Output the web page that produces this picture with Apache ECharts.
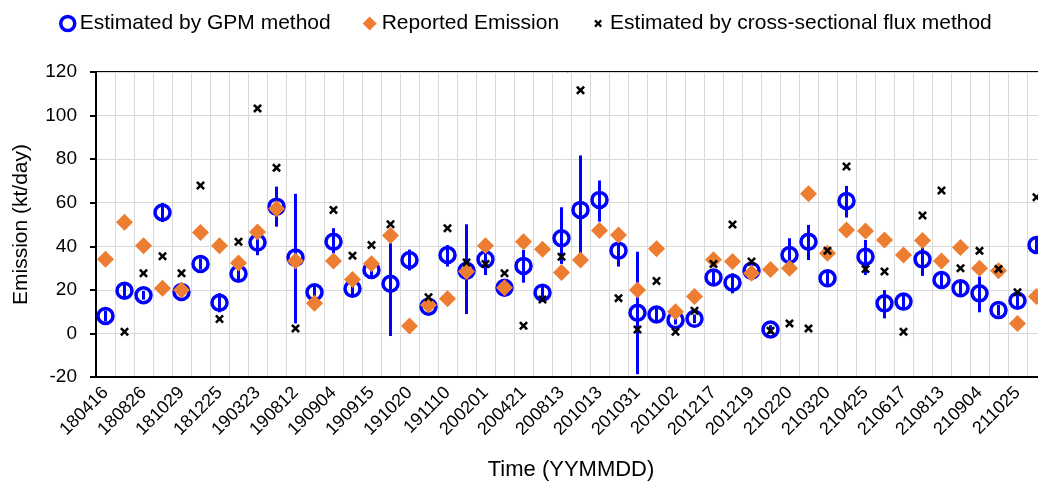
<!DOCTYPE html>
<html>
<head>
<meta charset="utf-8">
<script src="https://cdn.jsdelivr.net/npm/echarts@6/dist/echarts.min.js"></script>
<style>
  html, body { margin: 0; padding: 0; background: #fff; }
  #chart { width: 1038px; height: 482px; }
</style>
</head>
<body>
<div id="chart"></div>
<script>
// tick labels shown on every other observation date
const dateLabels = ['180416', '180826', '181029', '181225', '190323', '190812', '190904', '190915', '191020',
  '191110', '200201', '200421', '200813', '201013', '201031', '201102', '201217', '201219', '210220',
  '210320', '210425', '210617', '210813', '210904', '211025']

// GPM estimate and its error range (kt/day)
const gpm = [8.0, 19.6, 17.5, 55.5, 19.0, 31.9, 14.1, 27.4, 41.7, 58.2, 34.8, 18.9, 42.1, 20.5, 29.1, 22.8, 33.7,
  12.3, 36.0, 28.8, 34.0, 21.0, 31.0, 18.7, 43.7, 56.7, 61.3, 38.0, 9.5, 8.7, 6.1, 6.7, 25.7, 23.3, 28.8, 1.8,
  36.0, 42.1, 25.3, 60.8, 35.2, 13.8, 14.6, 34.0, 24.5, 20.7, 18.4, 10.7, 15.0, 40.6]
const gpmHigh = [10.5, 23.1, 19.5, 59.9, 21.0, 34.4, 18.5, 30.4, 46.8, 67.4, 64.1, 21.9, 48.3, 24.0, 32.1, 41.4, 38.5,
  15.3, 40.6, 50.1, 39.1, 23.0, 38.3, 21.7, 57.9, 81.7, 70.2, 43.7, 37.5, 12.2, 8.1, 8.7, 29.2, 27.6, 31.3, 3.8,
  43.7, 49.8, 28.3, 67.7, 42.9, 19.9, 18.1, 39.8, 28.0, 23.7, 26.1, 13.2, 18.0, 44.1]
const gpmLow = [5.5, 16.1, 15.5, 51.1, 17.0, 29.4, 9.7, 24.4, 35.9, 49.0, 4.6, 15.9, 36.8, 17.0, 26.1, -1.2, 28.9,
  9.3, 30.7, 8.9, 26.8, 19.0, 23.3, 15.7, 31.9, 34.0, 51.3, 30.7, -18.7, 5.2, 4.1, 4.7, 22.2, 18.4, 26.3, -0.2,
  30.7, 33.7, 22.3, 53.2, 26.8, 6.9, 11.1, 26.4, 21.0, 17.7, 9.7, 8.2, 12.0, 37.1]

// reported emission
const reported = [34.0, 51.0, 40.2, 20.7, 19.9, 46.3, 40.2, 32.3, 46.6, 57.2, 33.3, 13.8, 33.3, 24.8, 32.0, 44.9, 3.4,
  13.0, 15.9, 28.4, 40.3, 21.0, 42.1, 38.6, 28.0, 33.7, 47.2, 45.2, 19.9, 38.9, 10.0, 16.9, 33.8, 33.0, 27.6, 29.4,
  29.9, 64.1, 36.8, 47.5, 47.0, 42.9, 36.0, 42.6, 33.3, 39.4, 29.9, 28.8, 4.6, 16.9]

// cross-sectional flux estimate (null = no value)
const flux = [null, 0.8, 27.6, 35.4, 27.6, 67.9, 6.6, 42.1, 103.3, 76.0, 2.3, null, 56.7, 35.7, 40.6, 50.1, null,
  16.6, 48.3, 32.6, 31.9, 27.6, 3.5, 15.6, 35.2, 111.6, null, 16.2, 1.8, 24.1, 0.8, 10.4, 31.9, 50.0, 33.0, 1.2,
  4.6, 2.3, 38.0, 76.6, 29.6, 28.4, 0.8, 54.1, 65.6, 29.9, 37.9, 29.6, 18.9, 62.5]

const categories = gpm.map(function(v, i) {
  return i % 2 === 0 ? dateLabels[i / 2] : ''
})
const errorData = gpm.map(function(v, i) {
  return [i, gpmLow[i], gpmHigh[i]]
})

const font = 'Liberation Sans, Arial, sans-serif'
const crossPath = 'path://M0,2L2,0L5,3L8,0L10,2L7,5L10,8L8,10L5,7L2,10L0,8L3,5Z'
// same cross with empty margin so the legend icon stays small
const crossIcon = 'path://M-4,-4M14,14M0,2L2,0L5,3L8,0L10,2L7,5L10,8L8,10L5,7L2,10L0,8L3,5Z'

const chart = echarts.init(document.getElementById('chart'))
chart.setOption({
  animation: false,
  textStyle: { fontFamily: font, color: '#000' },
  legend: {
    top: 8,
    left: 54,
    itemGap: 32,
    itemWidth: 14,
    itemHeight: 14,
    textStyle: { fontSize: 21, color: '#000', fontFamily: font },
    data: [
      { name: 'Estimated by GPM method', icon: 'circle', itemStyle: { color: '#fff', borderColor: '#0000ff', borderWidth: 3.5 } },
      { name: 'Reported Emission', icon: 'diamond' },
      { name: 'Estimated by cross-sectional flux method', icon: crossIcon }
    ]
  },
  grid: {
    left: 96,
    top: 72,
    width: 950,
    height: 305,
    outerBoundsMode: 'none',
    containLabel: false,
    show: true,
    borderColor: '#000',
    borderWidth: 2
  },
  xAxis: {
    type: 'category',
    data: categories,
    name: 'Time (YYMMDD)',
    nameLocation: 'middle',
    nameGap: 82,
    nameTextStyle: { fontSize: 22, color: '#000', fontFamily: font },
    axisLine: { onZero: false, lineStyle: { color: '#000', width: 2 } },
    axisTick: { interval: 0, length: 5, lineStyle: { color: '#000', width: 2 } },
    axisLabel: { interval: 0, rotate: 45, fontSize: 18, color: '#000', margin: 13 },
    splitLine: { show: true, interval: 0, lineStyle: { color: '#d9d9d9', width: 1 } }
  },
  yAxis: {
    type: 'value',
    min: -20,
    max: 120,
    interval: 20,
    name: 'Emission (kt/day)',
    nameLocation: 'middle',
    nameGap: 64,
    nameTextStyle: { fontSize: 21, color: '#000', fontFamily: font },
    axisLine: { show: true, lineStyle: { color: '#000', width: 2 } },
    axisTick: { show: true, length: 6, lineStyle: { color: '#000', width: 2 } },
    axisLabel: { fontSize: 19, color: '#000', margin: 19 },
    splitLine: { lineStyle: { color: '#d9d9d9', width: 1 } }
  },
  series: [
    {
      name: 'error',
      type: 'custom',
      z: 1,
      renderItem: function(params, api) {
        const lo = api.coord([api.value(0), api.value(1)])
        const hi = api.coord([api.value(0), api.value(2)])
        return {
          type: 'line',
          shape: { x1: lo[0], y1: lo[1], x2: hi[0], y2: hi[1] },
          style: { stroke: '#0000ff', lineWidth: 3 }
        }
      },
      encode: { x: 0, y: [1, 2] },
      data: errorData
    },
    {
      name: 'Estimated by GPM method',
      type: 'scatter',
      z: 2,
      symbol: 'circle',
      symbolSize: 15,
      itemStyle: { color: 'rgba(0,0,0,0)', borderColor: '#0000ff', borderWidth: 3.5, opacity: 1 },
      data: gpm
    },
    {
      name: 'Reported Emission',
      type: 'scatter',
      z: 3,
      symbol: 'diamond',
      symbolSize: 17,
      itemStyle: { color: '#ed7d31', opacity: 1 },
      data: reported
    },
    {
      name: 'Estimated by cross-sectional flux method',
      type: 'scatter',
      z: 4,
      symbol: crossPath,
      symbolSize: 9,
      itemStyle: { color: '#000', opacity: 1 },
      data: flux
    }
  ]
})
</script>
</body>
</html>
